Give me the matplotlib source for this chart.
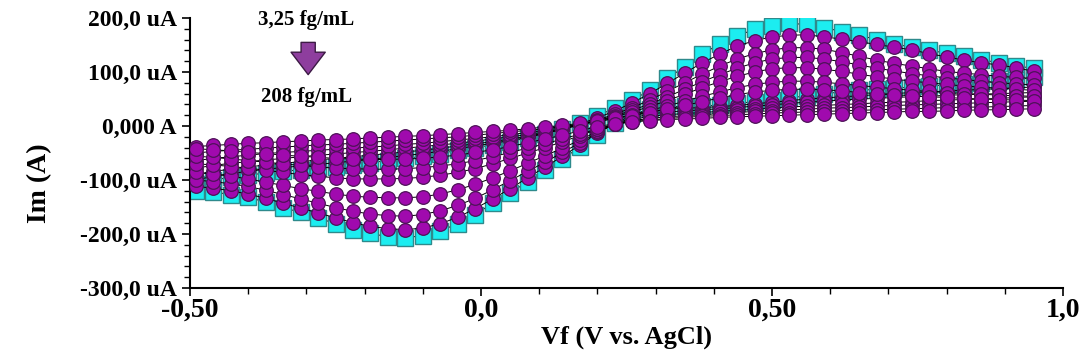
import matplotlib
matplotlib.use('Agg')
import matplotlib.pyplot as plt
from matplotlib.ticker import MultipleLocator

# Scan potentials (V vs. AgCl) where the markers sit
potential = [-0.49, -0.46, -0.43, -0.40, -0.37, -0.34, -0.31, -0.28, -0.25, -0.22,
             -0.19, -0.16, -0.13, -0.10, -0.07, -0.04, -0.01, 0.02, 0.05, 0.08,
             0.11, 0.14, 0.17, 0.20, 0.23, 0.26, 0.29, 0.32, 0.35, 0.38,
             0.41, 0.44, 0.47, 0.50, 0.53, 0.56, 0.59, 0.62, 0.65, 0.68,
             0.71, 0.74, 0.77, 0.80, 0.83, 0.86, 0.89, 0.92, 0.95]

# Current (uA) for each concentration: forward (f) and reverse (r) sweep
c0f = [-108, -100, -95, -91, -87, -84, -81, -78, -75, -72,
       -68, -64, -60, -56, -51, -45, -40, -35, -29, -22,
       -14, -5, 6, 19, 33, 48, 66, 88, 110, 133,
       152, 167, 179, 186, 190, 188, 182, 175, 168, 160,
       152, 146, 140, 135, 129, 123, 117, 111, 107]
c0r = [-120, -122, -127, -132, -141, -151, -160, -170, -181, -192,
       -199, -205, -207, -203, -194, -181, -164, -143, -124, -103,
       -82, -61, -39, -16, 6, 22, 31, 35, 37, 37,
       39, 42, 45, 48, 52, 56, 60, 63, 66, 68,
       70, 72, 74, 76, 78, 80, 83, 86, 90]
c1f = [-100, -93, -88, -84, -80, -77, -74, -71, -68, -65,
       -62, -58, -55, -51, -47, -42, -37, -32, -27, -21,
       -14, -6, 4, 15, 28, 43, 60, 79, 98, 117,
       133, 148, 158, 165, 168, 169, 165, 161, 156, 151,
       146, 141, 134, 128, 122, 117, 113, 108, 101]
c1r = [-112, -115, -120, -126, -134, -143, -152, -161, -170, -179,
       -186, -190, -192, -189, -181, -169, -153, -135, -116, -96,
       -76, -56, -35, -13, 6, 19, 27, 31, 33, 34,
       36, 38, 41, 44, 47, 50, 52, 54, 56, 58,
       60, 62, 63, 65, 66, 68, 69, 71, 72]
c2f = [-90, -84, -80, -76, -72, -69, -66, -63, -60, -57,
       -54, -51, -48, -45, -41, -37, -33, -29, -24, -19,
       -13, -6, 2, 11, 22, 34, 48, 64, 80, 96,
       111, 124, 134, 141, 145, 145, 142, 136, 129, 122,
       116, 111, 106, 101, 98, 95, 92, 90, 88]
c2r = [-100, -103, -107, -112, -119, -127, -135, -143, -151, -158,
       -163, -166, -167, -164, -157, -147, -134, -118, -101, -84,
       -67, -49, -31, -12, 4, 15, 22, 26, 28, 30,
       32, 34, 37, 39, 42, 44, 46, 48, 50, 51,
       53, 54, 55, 57, 58, 59, 60, 61, 62]
c3f = [-78, -73, -69, -66, -63, -60, -57, -54, -52, -49,
       -47, -44, -41, -38, -35, -32, -28, -24, -20, -16,
       -11, -5, 2, 10, 19, 29, 41, 54, 68, 82,
       95, 107, 117, 124, 127, 127, 124, 119, 113, 107,
       102, 97, 93, 89, 86, 83, 80, 78, 76]
c3r = [-86, -89, -93, -98, -104, -110, -116, -121, -126, -130,
       -132, -133, -133, -131, -126, -118, -108, -96, -83, -69,
       -55, -41, -26, -10, 3, 12, 18, 21, 23, 25,
       27, 29, 31, 33, 35, 37, 38, 40, 41, 43,
       44, 45, 47, 48, 49, 50, 51, 53, 54]
c4f = [-64, -60, -57, -54, -51, -49, -47, -45, -43, -41,
       -39, -37, -34, -32, -29, -26, -23, -20, -16, -12,
       -8, -3, 3, 10, 17, 26, 36, 47, 59, 71,
       82, 92, 100, 106, 108, 108, 105, 101, 96, 91,
       87, 83, 80, 77, 74, 72, 70, 68, 66]
c4r = [-70, -72, -75, -78, -82, -86, -90, -93, -96, -98,
       -98, -98, -97, -95, -91, -86, -79, -70, -60, -50,
       -40, -29, -18, -6, 3, 10, 14, 17, 19, 21,
       23, 25, 27, 28, 30, 31, 33, 34, 35, 37,
       38, 39, 40, 41, 42, 43, 44, 45, 46]
c5f = [-50, -47, -45, -43, -41, -39, -37, -35, -34, -32,
       -30, -28, -26, -24, -22, -20, -17, -14, -11, -8,
       -5, -1, 3, 8, 14, 21, 29, 37, 46, 55,
       63, 71, 77, 81, 83, 83, 81, 78, 75, 72,
       69, 66, 64, 62, 60, 59, 57, 56, 55]
c5r = [-56, -58, -61, -64, -67, -70, -73, -76, -78, -79,
       -80, -80, -79, -77, -74, -70, -64, -57, -49, -41,
       -33, -24, -15, -5, 3, 8, 11, 14, 16, 18,
       19, 21, 22, 24, 25, 26, 27, 28, 29, 30,
       31, 32, 33, 34, 35, 35, 36, 37, 38]
c6f = [-38, -36, -34, -32, -31, -29, -28, -26, -25, -24,
       -22, -21, -19, -18, -16, -14, -12, -10, -8, -5,
       -2, 1, 5, 9, 14, 19, 25, 31, 38, 45,
       52, 58, 63, 66, 68, 68, 67, 65, 62, 60,
       58, 56, 54, 53, 51, 50, 49, 48, 47]
c6r = [-42, -44, -46, -49, -51, -54, -56, -58, -60, -61,
       -62, -62, -61, -60, -57, -54, -49, -44, -38, -31,
       -24, -17, -9, -1, 4, 8, 10, 12, 13, 14,
       16, 17, 18, 19, 20, 21, 22, 23, 24, 25,
       26, 27, 27, 28, 29, 30, 30, 31, 32]

forward = [c0f, c1f, c2f, c3f, c4f, c5f, c6f]
reverse = [c0r, c1r, c2r, c3r, c4r, c5r, c6r]

yticks = [-300, -200, -100, 0, 100, 200]
ytick_labels = ['-300,0 uA', '-200,0 uA', '-100,0 uA', '0,000 A', '100,0 uA', '200,0 uA']
xticks = [-0.5, 0.0, 0.5, 1.0]
xtick_labels = ['-0,50', '0,0', '0,50', '1,0']

plt.rcParams['font.family'] = 'Liberation Serif'
plt.rcParams['font.weight'] = 'bold'

fig = plt.figure(figsize=(10.84, 3.63), dpi=100)
ax = fig.add_axes([0.1753, 0.2066, 0.8053, 0.7438])

# each voltammogram: forward sweep then back along the reverse sweep
for k in range(len(forward)):
    xs = potential + potential[::-1]
    ys = forward[k] + reverse[k][::-1]
    if k == 0:
        ax.plot(xs, ys, color='black', lw=0.7, marker='s', markersize=11,
                markerfacecolor='#1CEDF0', markeredgecolor='#2E8A8C', markeredgewidth=1.0,
                zorder=2)
    else:
        ax.plot(xs, ys, color='black', lw=0.7, marker='o', markersize=9.8,
                markerfacecolor='#A00AAE', markeredgecolor='#4E1258', markeredgewidth=0.9,
                zorder=2 + k)

ax.set_xlim(-0.5, 1.0)
ax.set_ylim(-300, 200)
ax.set_xticks(xticks)
ax.set_xticklabels(xtick_labels, fontsize=20, fontweight='bold')
ax.set_yticks(yticks)
ax.set_yticklabels(ytick_labels, fontsize=17, fontweight='bold')
ax.xaxis.set_minor_locator(MultipleLocator(0.1))
ax.yaxis.set_minor_locator(MultipleLocator(20))
ax.tick_params(which='major', direction='out', length=6, width=1.2)
ax.tick_params(axis='x', which='major', pad=1)
ax.tick_params(which='minor', direction='out', length=4, width=1.0)

ax.spines['top'].set_visible(False)
ax.spines['right'].set_visible(False)
ax.spines['left'].set_linewidth(1.5)
ax.spines['bottom'].set_linewidth(1.5)

ax.set_xlabel('Vf (V vs. AgCl)', fontsize=19, fontweight='bold', labelpad=2)
ax.set_ylabel('Im (A)', fontsize=20, fontweight='bold')
ax.yaxis.set_label_coords(-0.158, 0.39)

# concentration arrow
ax.text(-0.30, 196, '3,25 fg/mL', fontsize=15, fontweight='bold', ha='center', va='center')
ax.text(-0.30, 54, '208 fg/mL', fontsize=15, fontweight='bold', ha='center', va='center')
ax.annotate('', xy=(-0.297, 90), xytext=(-0.297, 160),
            arrowprops=dict(arrowstyle='simple, head_width=1.45, head_length=0.95, tail_width=0.6',
                            mutation_scale=17, fc='#8E3E9E', ec='#3C1A44', lw=1.0))

plt.savefig('out.png', dpi=100)
